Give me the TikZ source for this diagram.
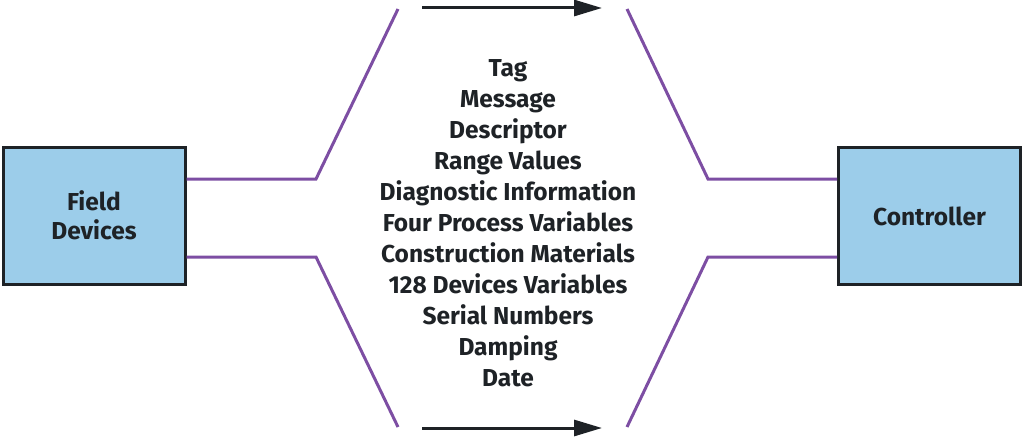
\documentclass[tikz,border=0pt]{standalone}
\usepackage{fontspec}
\setmainfont{Fira Sans}
\usetikzlibrary{arrows.meta}
\definecolor{boxblue}{HTML}{9CCDEA}
\definecolor{wirepurple}{HTML}{7D4EA3}
\definecolor{inkdark}{HTML}{1E2226}
\begin{document}
\begin{tikzpicture}[x=1pt,y=-1pt,
    unit/.style={draw=inkdark, line width=3pt, fill=boxblue, minimum width=182pt,
      minimum height=137pt, align=center, text=inkdark,
      font=\fontsize{24.5}{29}\selectfont\bfseries},
    wire/.style={wirepurple, line width=3pt},
    flow/.style={inkdark, line width=3pt, -{Triangle[length=28pt, width=16pt]}}]
    \useasboundingbox (0,0) rectangle (1024,436);
    \node [unit] (field) at (94,215.5) {Field\\Devices};
    \node [unit] (ctrl) at (929.5,216) {Controller};
    % bends and free ends of the wires
    \coordinate (lt) at (316,179);
    \coordinate (lb) at (316,257);
    \coordinate (rt) at (708,179);
    \coordinate (rb) at (708,257);
    \coordinate (ltend) at (398,9);
    \coordinate (lbend) at (398,427);
    \coordinate (rtend) at (627,9);
    \coordinate (rbend) at (627,427);
    \draw [wire] (field.east |- lt) -- (lt) -- (ltend);
    \draw [wire] (field.east |- lb) -- (lb) -- (lbend);
    \draw [wire] (ctrl.west |- rt) -- (rt) -- (rtend);
    \draw [wire] (ctrl.west |- rb) -- (rb) -- (rbend);
    % arrows
    \coordinate (ta) at (422,8);
    \coordinate (tb) at (602,8);
    \coordinate (ba) at (422,428);
    \coordinate (bb) at (602,428);
    \draw [flow] (ta) -- (tb);
    \draw [flow] (ba) -- (bb);
    \node [align=center, text=inkdark, font=\fontsize{24.5}{31}\selectfont\bfseries] (items) at (508,223)
      {Tag\\Message\\Descriptor\\Range Values\\Diagnostic Information\\Four Process Variables\\
       Construction Materials\\128 Devices Variables\\Serial Numbers\\Damping\\Date};
\end{tikzpicture}
\end{document}
